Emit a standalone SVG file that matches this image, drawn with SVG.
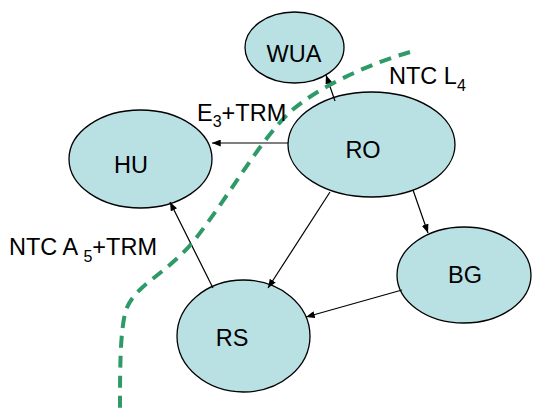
<svg xmlns="http://www.w3.org/2000/svg" width="534" height="417" viewBox="0 0 534 417">
<style>
.node ellipse{fill:#b9e0e3;stroke:#000;stroke-width:1.3}
text{font-family:"Liberation Sans",Arial,sans-serif;font-size:23.5px;fill:#000}
.nl{text-anchor:middle}
.sub{font-size:16px}
.edge{stroke:#000;stroke-width:1.2;fill:none;marker-end:url(#ah)}
.cut{stroke:#2e9a68;stroke-width:4;fill:none;stroke-dasharray:12 8}
</style>
<defs>
<marker id="ah" viewBox="0 0 10 8" refX="10" refY="4" markerWidth="9" markerHeight="7" markerUnits="userSpaceOnUse" orient="auto">
<path d="M0,0 L10,4 L0,8 z" fill="#000"/>
</marker>
</defs>
<rect width="534" height="417" fill="#fff"/>
<g id="node-WUA" class="node"><ellipse cx="294.5" cy="47.5" rx="49.5" ry="35.5"/><text class="nl" x="294" y="62">WUA</text></g>
<g id="node-HU" class="node"><ellipse cx="140.5" cy="159" rx="71.5" ry="49"/><text class="nl" x="131" y="173">HU</text></g>
<g id="node-RO" class="node"><ellipse cx="371.5" cy="144.5" rx="83.5" ry="52.5"/><text class="nl" x="363" y="158">RO</text></g>
<g id="node-BG" class="node"><ellipse cx="464" cy="275" rx="67" ry="48"/><text class="nl" x="465" y="283">BG</text></g>
<g id="node-RS" class="node"><ellipse cx="243.5" cy="336" rx="66.5" ry="56"/><text class="nl" x="232" y="346">RS</text></g>
<g id="connectors">
<line class="edge" x1="288" y1="143" x2="212" y2="143"/>
<line class="edge" x1="335" y1="101" x2="326" y2="75"/>
<line class="edge" x1="330" y1="192" x2="268" y2="288"/>
<line class="edge" x1="413" y1="190" x2="428" y2="233"/>
<line class="edge" x1="402" y1="290" x2="306" y2="317"/>
<line class="edge" x1="213" y1="288" x2="170" y2="202"/>
</g>
<path id="cut-line" class="cut" d="M410,52 C375,62 320,85 290,112 C260,140 230,195 193,242 C165,275 135,285 126,310 C120,330 120,370 120,408"/>
<g id="labels">
<text x="197" y="121">E<tspan class="sub" dy="6">3</tspan><tspan dy="-6">+TRM</tspan></text>
<text x="389" y="84">NTC L<tspan class="sub" dy="7">4</tspan></text>
<text x="9" y="255">NTC A <tspan class="sub" dy="7">5</tspan><tspan dy="-7">+TRM</tspan></text>
</g>
</svg>
